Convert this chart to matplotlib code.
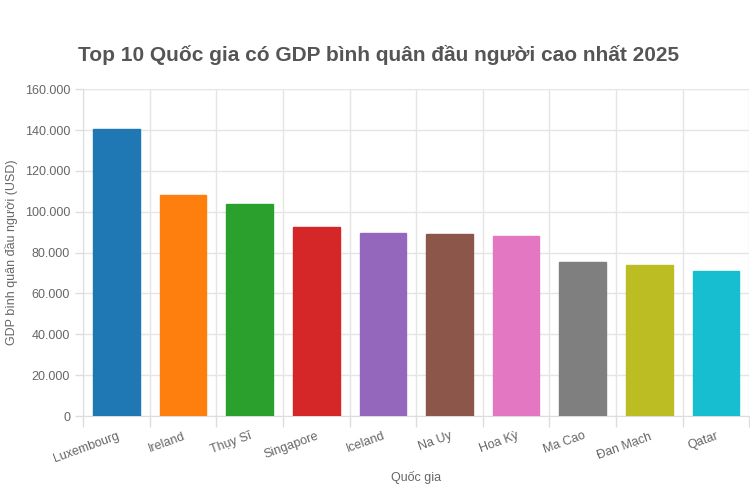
import matplotlib
matplotlib.use("Agg")
from matplotlib import pyplot as plt
from matplotlib.ticker import FuncFormatter, MultipleLocator
from matplotlib.transforms import offset_copy

countries = ["Luxembourg", "Ireland", "Thụy Sĩ", "Singapore", "Iceland",
             "Na Uy", "Hoa Kỳ", "Ma Cao", "Đan Mạch", "Qatar"]
gdp = [140300, 108100, 104000, 92300, 89500, 89000, 88200, 75500, 74000, 70900]
colors = ["#1f77b4", "#ff7f0e", "#2ca02c", "#d62728", "#9467bd",
          "#8c564b", "#e377c2", "#7f7f7f", "#bcbd22", "#17becf"]

plt.rcParams['font.family'] = ['Liberation Sans', 'DejaVu Sans']
grey = "#666666"

fig = plt.figure(figsize=[7.5, 4.9], dpi=100)
ax = fig.add_axes([0.111, 0.151, 0.888, 0.667])

x = list(range(len(countries)))
ax.bar(x, gdp, width=0.7, color=colors, edgecolor=colors, linewidth=1, zorder=3)

ax.set_xlim(-0.5, len(countries) - 0.5)
ax.set_ylim(0, 160000)
ax.yaxis.set_major_locator(MultipleLocator(20000))
ax.yaxis.set_major_formatter(FuncFormatter(lambda v, p: f"{int(v):,}".replace(",", ".")))

# gridlines between categories like chart.js offset grid
ax.set_xticks([i - 0.5 for i in range(len(countries) + 1)], minor=False)
ax.set_xticklabels([])
ax.tick_params(axis='x', length=8, color="#dddddd", width=1)
ax.tick_params(axis='y', length=6, color="#dddddd", width=1, labelcolor=grey, labelsize=9)
ax.grid(True, color="#e5e5e5", linewidth=1, zorder=0)

trans = offset_copy(ax.get_xaxis_transform(), fig=fig, x=0, y=-14, units='dots')
for i, name in enumerate(countries):
    ax.text(i, 0, name, transform=trans, rotation=20, rotation_mode='anchor',
            ha='right', va='top', fontsize=9, color=grey)

for s in ax.spines.values():
    s.set_visible(False)
ax.spines['left'].set_visible(True)
ax.spines['left'].set_color("#dddddd")
ax.spines['bottom'].set_visible(True)
ax.spines['bottom'].set_color("#dddddd")

fig.text(0.505, 0.888, "Top 10 Quốc gia có GDP bình quân đầu người cao nhất 2025",
         ha='center', va='center', fontsize=15, fontweight='bold', color="#555555")
fig.text(0.555, 0.025, "Quốc gia", ha='center', va='center', fontsize=9, color=grey)
fig.text(0.016, 0.485, "GDP bình quân đầu người (USD)", ha='center', va='center',
         rotation=90, fontsize=9, color=grey)

fig.savefig("out.png", dpi=100)
